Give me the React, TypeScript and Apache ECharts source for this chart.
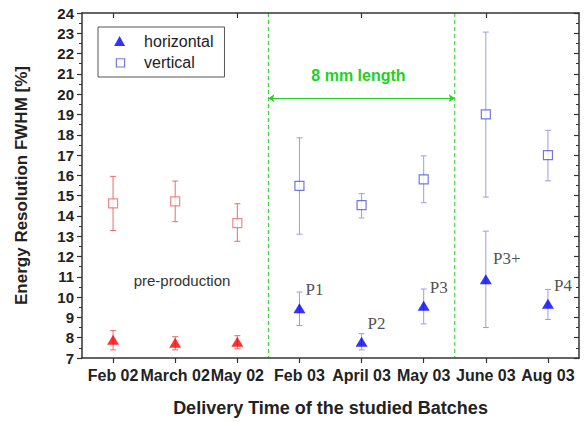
import React, { useEffect, useRef } from "react";
import * as echarts from "echarts";

// Delivery batches along the x axis
const categories = ["Feb 02", "March 02", "May 02", "Feb 03", "April 03", "May 03", "June 03", "Aug 03"];

// Horizontal orientation: value with lower / upper error bounds (%)
const horizontalValues = [7.9, 7.75, 7.8, 9.45, 7.8, 9.58, 10.88, 9.67];
const horizontalLow = [7.4, 7.4, 7.45, 8.6, 7.4, 8.68, 8.5, 8.9];
const horizontalHigh = [8.35, 8.05, 8.1, 10.25, 8.2, 10.4, 13.25, 10.38];

// Vertical orientation: value with lower / upper error bounds (%)
const verticalValues = [14.62, 14.72, 13.65, 15.48, 14.53, 15.8, 19.0, 17.0];
const verticalLow = [13.28, 13.72, 12.75, 13.1, 13.9, 14.65, 14.93, 15.73];
const verticalHigh = [15.95, 15.72, 14.6, 17.85, 15.1, 16.96, 23.06, 18.22];

// Producer labels next to the horizontal points
const pointLabels = ["", "", "", "P1", "P2", "P3", "P3+", "P4"];

// First batches belong to the pre-production phase
const preProductionCount = 3;

// Batch boundaries of the 8 mm length period (in category units)
const lengthPeriod = [2.5, 5.5];
const arrowLevel = 19.8;

const RED = "#ff0000";
const RED_LIGHT = "#ec6a6a";
const BLUE = "#0000ff";
const BLUE_SQUARE = "#5252dc";
const BLUE_LIGHT = "#9c9ce8";
const GREEN = "#22d022";

function errorBarSeries(low: number[], high: number[], colors: [string, string]) {
  return {
    type: "custom",
    xAxisIndex: 0,
    yAxisIndex: 0,
    silent: true,
    z: 1,
    data: low.map((lo, i) => [i, lo, high[i]]),
    encode: { x: 0, y: [1, 2] },
    renderItem: (params: any, api: any) => {
      const i = api.value(0);
      const lo = api.coord([i, api.value(1)]);
      const hi = api.coord([i, api.value(2)]);
      const color = params.dataIndex < preProductionCount ? colors[0] : colors[1];
      const style = { stroke: color, lineWidth: 1 };
      const cap = 3;
      return {
        type: "group",
        children: [
          { type: "line", shape: { x1: lo[0], y1: lo[1], x2: hi[0], y2: hi[1] }, style },
          { type: "line", shape: { x1: hi[0] - cap, y1: hi[1], x2: hi[0] + cap, y2: hi[1] }, style },
          { type: "line", shape: { x1: lo[0] - cap, y1: lo[1], x2: lo[0] + cap, y2: lo[1] }, style },
        ],
      };
    },
  };
}

export default function App() {
  const ref = useRef<HTMLDivElement>(null);

  useEffect(() => {
    if (!ref.current) return;
    const chart = echarts.init(ref.current, undefined, { renderer: "svg" });

    const axisLine = { show: true, onZero: false, lineStyle: { color: "#333", width: 1.5 } };

    const option: any = {
      animation: false,
      backgroundColor: "#fff",
      grid: { left: 82, right: 8, top: 13, bottom: 58 },
      legend: {
        left: 98,
        top: 27,
        orient: "vertical",
        padding: [6, 11, 7, 16],
        itemGap: 5,
        itemWidth: 11,
        itemHeight: 10,
        borderColor: "#555",
        borderWidth: 1,
        borderRadius: 0,
        backgroundColor: "#fff",
        textStyle: {
          fontFamily: "Liberation Sans",
          fontSize: 16,
          color: "#222",
          lineHeight: 16,
          padding: [0, 0, 0, 14],
        },
        data: [
          { name: "horizontal", icon: "triangle", itemStyle: { color: BLUE } },
          {
            name: "vertical",
            icon: "path://M1.5,1.5H8.5V8.5H1.5Z M0,0",
            itemStyle: { color: "#fff", borderColor: BLUE_SQUARE, borderWidth: 1.2 },
          },
        ],
      },
      xAxis: [
        {
          type: "category",
          data: categories,
          position: "bottom",
          boundaryGap: true,
          axisLine,
          axisTick: { show: true, alignWithLabel: true, length: 5, lineStyle: { color: "#333", width: 1.2 } },
          axisLabel: {
            interval: 0,
            margin: 9,
            fontFamily: "Liberation Sans",
            fontWeight: "bold",
            fontSize: 16,
            color: "#222",
          },
          name: "Delivery Time of the studied Batches",
          nameLocation: "middle",
          nameGap: 41,
          nameTextStyle: { fontFamily: "Liberation Sans", fontWeight: "bold", fontSize: 18, color: "#222" },
        },
        {
          type: "category",
          data: categories,
          position: "top",
          boundaryGap: true,
          axisLine,
          axisTick: { show: true, inside: true, alignWithLabel: true, length: 5, lineStyle: { color: "#333", width: 1.2 } },
          axisLabel: { show: false },
        },
        {
          type: "value",
          min: -0.5,
          max: 7.5,
          show: false,
        },
      ],
      yAxis: [
        {
          type: "value",
          position: "left",
          min: 7,
          max: 24,
          interval: 1,
          axisLine,
          axisTick: { show: true, length: 5, lineStyle: { color: "#333", width: 1.2 } },
          minorTick: { show: true, splitNumber: 2, length: 3, lineStyle: { color: "#333", width: 1 } },
          splitLine: { show: false },
          axisLabel: {
            margin: 8,
            fontFamily: "Liberation Sans",
            fontWeight: "bold",
            fontSize: 15,
            color: "#222",
          },
          name: "Energy Resolution FWHM [%]",
          nameLocation: "middle",
          nameRotate: 90,
          nameGap: 52,
          nameTextStyle: { fontFamily: "Liberation Sans", fontWeight: "bold", fontSize: 17, color: "#222" },
        },
        {
          type: "value",
          position: "right",
          min: 7,
          max: 24,
          interval: 1,
          axisLine,
          axisTick: { show: true, inside: true, length: 5, lineStyle: { color: "#333", width: 1.2 } },
          minorTick: { show: true, splitNumber: 2, length: 3, lineStyle: { color: "#333", width: 1 } },
          splitLine: { show: false },
          axisLabel: { show: false },
        },
      ],
      series: [
        // Dashed boundaries of the 8 mm length period
        {
          name: "period",
          type: "custom",
          xAxisIndex: 2,
          yAxisIndex: 0,
          silent: true,
          z: 0,
          data: lengthPeriod.map((x) => [x]),
          encode: { x: 0 },
          renderItem: (params: any, api: any) => {
            const cs = params.coordSys;
            const x = api.coord([api.value(0), 7])[0];
            return {
              type: "line",
              shape: { x1: x, y1: cs.y, x2: x, y2: cs.y + cs.height },
              style: { stroke: GREEN, lineWidth: 1, lineDash: [4, 3] },
            };
          },
        },
        errorBarSeries(verticalLow, verticalHigh, [RED_LIGHT, BLUE_LIGHT]),
        errorBarSeries(horizontalLow, horizontalHigh, [RED_LIGHT, BLUE_LIGHT]),
        {
          name: "vertical",
          type: "scatter",
          xAxisIndex: 0,
          yAxisIndex: 0,
          symbol: "rect",
          symbolSize: 9,
          z: 3,
          itemStyle: { color: "#fff", borderColor: BLUE_SQUARE, borderWidth: 1.2 },
          data: verticalValues.map((v, i) => ({
            value: [i, v],
            itemStyle: {
              color: "#fff",
              borderColor: i < preProductionCount ? RED_LIGHT : BLUE_SQUARE,
              borderWidth: 1.2,
            },
          })),
        },
        {
          name: "horizontal",
          type: "scatter",
          xAxisIndex: 0,
          yAxisIndex: 0,
          symbol: "triangle",
          symbolSize: [12, 10],
          z: 3,
          itemStyle: { color: BLUE },
          label: {
            show: true,
            position: "top",
            distance: 5,
            offset: [15, 0],
            fontFamily: "Liberation Serif",
            fontSize: 17,
            color: "#222",
            formatter: (p: any) => pointLabels[p.dataIndex],
          },
          data: horizontalValues.map((v, i) => ({
            value: [i, v],
            itemStyle: { color: i < preProductionCount ? RED : BLUE },
            label: pointLabels[i] === "P3+" ? { offset: [21, -2] } : undefined,
          })),
        },
        {
          name: "notes",
          type: "scatter",
          xAxisIndex: 2,
          yAxisIndex: 0,
          data: [],
          silent: true,
          markLine: {
            silent: true,
            symbol: ["arrow", "arrow"],
            symbolSize: [6, 6],
            label: { show: false },
            lineStyle: { color: GREEN, type: "solid", width: 1 },
            data: [[{ coord: [lengthPeriod[0], arrowLevel] }, { coord: [lengthPeriod[1], arrowLevel] }]],
          },
          markPoint: {
            silent: true,
            symbol: "circle",
            symbolSize: 0,
            data: [
              {
                coord: [3.95, 20.9],
                label: {
                  show: true,
                  position: "inside",
                  formatter: "8 mm length",
                  fontFamily: "Liberation Sans",
                  fontWeight: "bold",
                  fontSize: 16,
                  color: GREEN,
                },
              },
              {
                coord: [1.11, 10.83],
                label: {
                  show: true,
                  position: "inside",
                  formatter: "pre-production",
                  fontFamily: "Liberation Sans",
                  fontSize: 15,
                  color: "#333",
                },
              },
            ],
          },
        },
      ],
    };

    chart.setOption(option);
    return () => chart.dispose();
  }, []);

  return (
    <div
      ref={ref}
      style={{ position: "fixed", left: 0, top: 0, width: 587, height: 422 }}
    />
  );
}
